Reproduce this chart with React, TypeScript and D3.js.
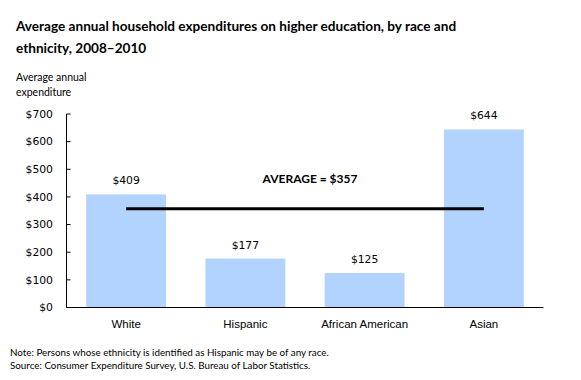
import React from "react";
import * as d3 from "d3";

const categories = ["White", "Hispanic", "African American", "Asian"];
const values = [409, 177, 125, 644];
const average = 357;
const yTicks = [0, 100, 200, 300, 400, 500, 600, 700];

const W = 581, H = 380;
const left = 66.5, right = 543.5, top = 114, bottom = 307.5;

export default function App() {
  const x = d3.scaleBand<string>().domain(categories).range([left, right]).paddingInner(0.33).paddingOuter(0.165);
  const y = d3.scaleLinear().domain([0, 700]).range([bottom, top]);
  const fmt = (v: number) => "$" + v;
  const centers = categories.map((c) => (x(c) as number) + x.bandwidth() / 2);
  return (
    <svg width={W} height={H} style={{ position: "absolute", left: 0, top: 0, background: "#fff" }}>
      <g fontFamily="Lato, 'Open Sans', sans-serif" fontWeight="bold" fontSize="13.6" fill="#000">
        <text x={16} y={31}>Average annual household expenditures on higher education, by race and</text>
        <text x={16} y={53}>ethnicity, 2008–2010</text>
      </g>
      <g fontFamily="Lato, sans-serif" fontSize="10.5" fill="#000">
        <text x={16} y={81}>Average annual</text>
        <text x={16} y={96}>expenditure</text>
      </g>
      {categories.map((c, i) => (
        <rect key={c} x={x(c)} y={y(values[i])} width={x.bandwidth()} height={bottom - y(values[i])} fill="#B3D3FF" />
      ))}
      <line x1={left} x2={left} y1={top} y2={bottom} stroke="#000" strokeWidth={1} />
      <line x1={left} x2={right} y1={bottom} y2={bottom} stroke="#000" strokeWidth={1} />
      {yTicks.map((t) => (
        <g key={t}>
          <line x1={left} x2={left + 4} y1={y(t)} y2={y(t)} stroke="#000" />
          <text x={53} y={y(t)} dy="0.35em" textAnchor="end" fontFamily="'DejaVu Sans', sans-serif" fontSize="10.8">{fmt(t)}</text>
        </g>
      ))}
      {categories.map((c, i) => (
        <text key={c} x={centers[i]} y={y(values[i]) - 10} textAnchor="middle" fontFamily="'DejaVu Sans', sans-serif" fontSize="10.8">{fmt(values[i])}</text>
      ))}
      {categories.map((c, i) => (
        <text key={c} x={centers[i]} y={328} textAnchor="middle" fontFamily="'Liberation Sans', Arial, sans-serif" fontSize="11.5">{c}</text>
      ))}
      <line x1={centers[0]} x2={centers[3]} y1={y(average)} y2={y(average)} stroke="#000" strokeWidth={3} />
      <text x={310} y={183} textAnchor="middle" fontFamily="Lato, sans-serif" fontWeight="bold" fontSize="12">{"AVERAGE = " + fmt(average)}</text>
      <g fontFamily="Lato, sans-serif" fontSize="9.8" fill="#000">
        <text x={10} y={356}>Note: Persons whose ethnicity is identified as Hispanic may be of any race.</text>
        <text x={10} y={369}>Source: Consumer Expenditure Survey, U.S. Bureau of Labor Statistics.</text>
      </g>
    </svg>
  );
}
